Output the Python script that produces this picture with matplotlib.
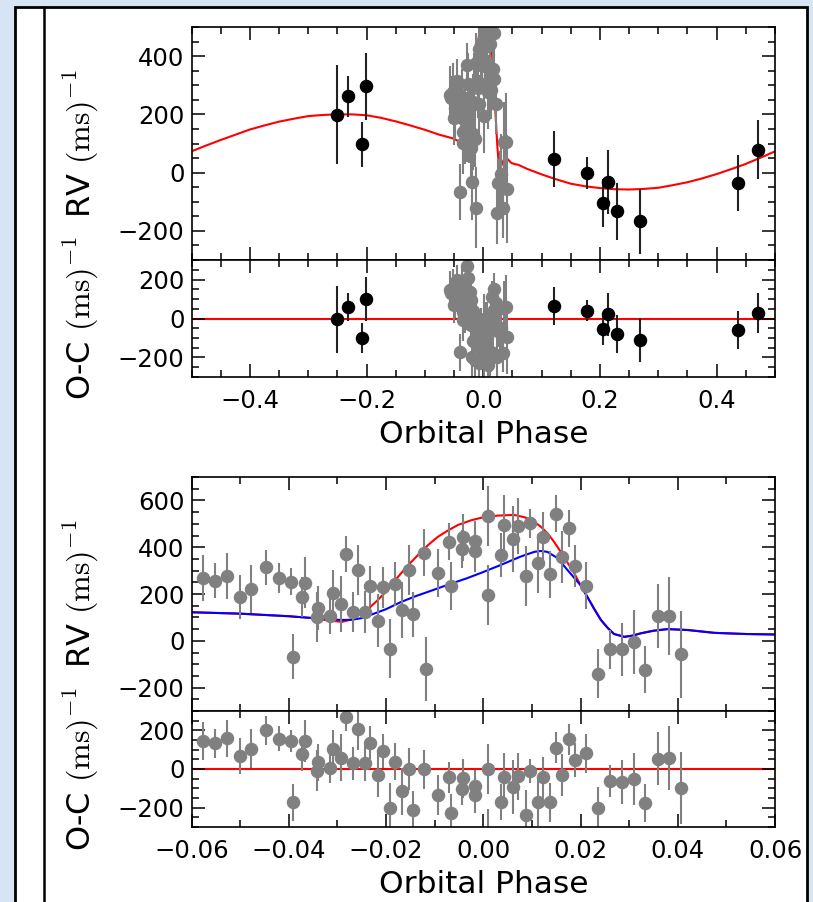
import matplotlib
matplotlib.use('Agg')
import matplotlib.pyplot as plt
from matplotlib.patches import Rectangle
from matplotlib.lines import Line2D
from matplotlib.ticker import MultipleLocator

plt.rcParams['font.family'] = ['DejaVu Sans']
plt.rcParams['mathtext.fontset'] = 'cm'

# black points (out-of-transit RVs), full orbit
black_phase = [-0.251, -0.231, -0.2015, -0.207, 0.121, 0.177, 0.2137, 0.205, 0.2285, 0.2685, 0.437, 0.4715]
black_rv = [199, 262, 296, 97, 48, -1, -32, -104, -133, -167, -37, 79]
black_err = [171, 70, 114, 77, 96, 56, 110, 83, 97, 111, 96, 101]
black_res = [-4, 59, 100, -100, 63, 41, 22, -54, -80, -110, -60, 29]

# gray points (transit night)
gray_phase = [-0.0576, -0.0552, -0.0526, -0.0501, -0.0477, -0.0446, -0.0420, -0.0396, -0.0392, -0.0367,
              -0.0372, -0.0340, -0.0341, -0.0316, -0.0309, -0.0293, -0.0283, -0.0268, -0.0258, -0.0243,
              -0.0233, -0.0217, -0.0207, -0.0192, -0.0182, -0.0168, -0.0152, -0.0144, -0.0122, -0.0118,
              -0.0094, -0.0070, -0.0067, -0.0041, -0.0043, -0.0017, -0.0016, 0.0010, 0.0010, 0.0042,
              0.0037, 0.0061, 0.0071, 0.0087, 0.0096, 0.0113, 0.0122, 0.0137, 0.0149, 0.0161,
              0.0176, 0.0188, 0.0212, 0.0235, 0.0261, 0.0285, 0.0309, 0.0333, 0.0359, 0.0383, 0.0407]
gray_rv = [267, 256, 277, 188, 221, 314, 269, 253, -68, 248,
           188, 139, 103, 106, 203, 157, 371, 123, 303, 123,
           234, 86, 229, -33, 243, 131, 303, 114, 377, -120,
           291, 423, 234, 443, 391, 428, 384, 534, 196, 496,
           367, 434, 491, 277, 503, 331, 443, 284, 543, 357,
           481, 320, 236, -140, -37, -37, -4, -123, 106, 106, -57]
gray_err = [98, 75, 98, 93, 101, 75, 64, 57, 96, 109,
            86, 94, 107, 75, 100, 120, 75, 86, 107, 90,
            86, 114, 88, 128, 95, 121, 107, 96, 101, 138,
            103, 79, 101, 101, 82, 86, 90, 128, 128, 128,
            93, 141, 121, 127, 62, 125, 107, 101, 80, 111,
            80, 89, 102, 105, 84, 112, 136, 100, 136, 166, 186]
gray_res = [144, 132, 158, 68, 105, 200, 156, 144, -173, 144,
            76, 34, -9, 3, 102, 59, 271, 30, 207, 30,
            136, -31, 93, -200, 37, -116, 0, -212, -2, -520,
            -136, -43, -229, -48, -102, -90, -136, 0, -337, -43,
            -173, -94, -38, -238, -12, -170, -43, -173, 110, -31,
            153, 46, 81, -200, -63, -68, -51, -175, 54, 59, -97]

# model curves
red_phase = [-0.060, -0.050, -0.040, -0.035, -0.032, -0.029, -0.027, -0.0257, -0.024, -0.022,
             -0.020, -0.0175, -0.0155, -0.0134, -0.0113, -0.0093, -0.0072, -0.0052, -0.0025, 0.000,
             0.003, 0.0063, 0.0085, 0.0104, 0.0118, 0.0132, 0.0146, 0.0159, 0.0173, 0.0187,
             0.020, 0.0214, 0.0228, 0.0242, 0.0256, 0.0269, 0.029, 0.0307, 0.0324, 0.035,
             0.0379, 0.0421, 0.0475, 0.054, 0.060]
red_rv = [122, 116, 105, 97, 87, 81, 92, 110, 130, 168,
          210, 274, 322, 367, 410, 445, 472, 495, 515, 528,
          535, 538, 528, 510, 488, 460, 422, 381, 335, 289,
          238, 188, 137, 89, 55, 29, 17, 22, 32, 43,
          50, 46, 34, 29, 27]

blue_phase = [-0.060, -0.050, -0.040, -0.035, -0.032, -0.029, -0.027, -0.025, -0.023, -0.020,
              -0.017, -0.014, -0.0103, -0.0068, -0.0034, -0.0006, 0.0036, 0.0077, 0.0105, 0.0118,
              0.0132, 0.0153, 0.0173, 0.020, 0.0214, 0.0228, 0.0242, 0.0256, 0.0269, 0.029,
              0.0307, 0.0324, 0.035, 0.0379, 0.0421, 0.0475, 0.054, 0.060]
blue_rv = [122, 116, 105, 97, 92, 89, 90, 97, 112, 135,
           165, 190, 217, 243, 267, 289, 324, 360, 380, 384,
           380, 353, 303, 238, 188, 137, 89, 55, 29, 17,
           22, 32, 43, 50, 46, 34, 29, 27]

orbit_phase_a = [-0.50, -0.475, -0.45, -0.425, -0.40, -0.375, -0.35, -0.325, -0.30, -0.275,
                 -0.25, -0.225, -0.20, -0.175, -0.15, -0.125, -0.10, -0.075]
orbit_rv_a = [73, 93, 112, 130, 148, 162, 175, 185, 194, 198,
              200, 200, 197, 188, 176, 162, 147, 130]
orbit_phase_b = [0.075, 0.10, 0.125, 0.15, 0.175, 0.20, 0.225, 0.25, 0.275, 0.30,
                 0.325, 0.35, 0.375, 0.40, 0.425, 0.45, 0.475, 0.50]
orbit_rv_b = [13, -6, -23, -38, -47, -53, -57, -58, -56, -52,
              -43, -33, -20, -5, 12, 30, 51, 73]

top_phase = orbit_phase_a + red_phase + orbit_phase_b
top_rv = orbit_rv_a + red_rv + orbit_rv_b

W, H = 813, 902
fig = plt.figure(figsize=(W / 100, H / 100), dpi=100)
fig.patch.set_facecolor('#d6e4f4')

# white page box with border and the inner rule
fig.add_artist(Rectangle((15 / W, -0.05), (807 - 15) / W, 1.05 - 7 / H,
                         transform=fig.transFigure, facecolor='white',
                         edgecolor='black', lw=2, zorder=0))
fig.add_artist(Line2D([44 / W, 44 / W], [0, 1 - 7 / H], transform=fig.transFigure,
                      color='black', lw=1.8, zorder=0))

TICK_FS = 17.5
LABEL_FS = 22.5
YLABEL_FS = 23


def box(top, bottom):
    return [191.5 / W, 1 - bottom / H, 583.5 / W, (bottom - top) / H]


def style(ax):
    ax.tick_params(which='both', direction='in', top=True, right=True,
                   labelsize=TICK_FS)
    ax.tick_params(axis='x', which='both', pad=8.5)
    ax.tick_params(axis='y', which='both', pad=5)
    ax.tick_params(which='major', length=9.6, width=1.1)
    ax.tick_params(which='minor', length=4.8, width=1.1)
    for s in ax.spines.values():
        s.set_linewidth(1.2)


ax1 = fig.add_axes(box(27, 260))
ax2 = fig.add_axes(box(260, 377))
ax3 = fig.add_axes(box(477, 711))
ax4 = fig.add_axes(box(711, 827))

pt = dict(fmt='o', ms=8.7, elinewidth=1.5, capsize=0)

# top: whole orbit
ax1.plot(top_phase, top_rv, color='red', lw=1.5, zorder=1)
ax1.errorbar(black_phase, black_rv, yerr=black_err, color='black', ecolor='#222222', **pt)
ax1.errorbar(gray_phase, gray_rv, yerr=gray_err, color='gray', ecolor='gray', **pt)
ax1.set_xlim(-0.5, 0.5)
ax1.set_ylim(-300, 500)
ax1.yaxis.set_major_locator(MultipleLocator(200))
ax1.yaxis.set_minor_locator(MultipleLocator(50))
ax1.set_ylabel(r'RV $(\mathrm{ms})^{-1}$', fontsize=YLABEL_FS)

ax2.axhline(0, color='red', lw=1.5, zorder=1)
ax2.errorbar(black_phase, black_res, yerr=black_err, color='black', ecolor='#222222', **pt)
ax2.errorbar(gray_phase, gray_res, yerr=gray_err, color='gray', ecolor='gray', **pt)
ax2.set_xlim(-0.5, 0.5)
ax2.set_ylim(-300, 300)
ax2.yaxis.set_major_locator(MultipleLocator(200))
ax2.yaxis.set_minor_locator(MultipleLocator(50))
ax2.set_ylabel(r'O-C $(\mathrm{ms})^{-1}$', fontsize=YLABEL_FS)
ax2.set_xlabel('Orbital Phase', fontsize=LABEL_FS, labelpad=5.5)

for ax in (ax1, ax2):
    ax.xaxis.set_major_locator(MultipleLocator(0.2))
    ax.xaxis.set_minor_locator(MultipleLocator(0.05))
ax1.tick_params(labelbottom=False)

# bottom: zoom on the transit
ax3.plot(red_phase, red_rv, color='red', lw=1.5, zorder=1)
ax3.plot(blue_phase, blue_rv, color='blue', lw=1.5, zorder=1)
ax3.errorbar(gray_phase, gray_rv, yerr=gray_err, color='gray', ecolor='gray', **pt)
ax3.set_xlim(-0.06, 0.06)
ax3.set_ylim(-300, 700)
ax3.yaxis.set_major_locator(MultipleLocator(200))
ax3.yaxis.set_minor_locator(MultipleLocator(50))
ax3.set_ylabel(r'RV $(\mathrm{ms})^{-1}$', fontsize=YLABEL_FS)

ax4.axhline(0, color='red', lw=1.5, zorder=1)
ax4.errorbar(gray_phase, gray_res, yerr=gray_err, color='gray', ecolor='gray', **pt)
ax4.set_xlim(-0.06, 0.06)
ax4.set_ylim(-300, 300)
ax4.yaxis.set_major_locator(MultipleLocator(200))
ax4.yaxis.set_minor_locator(MultipleLocator(50))
ax4.set_ylabel(r'O-C $(\mathrm{ms})^{-1}$', fontsize=YLABEL_FS)
ax4.set_xlabel('Orbital Phase', fontsize=LABEL_FS, labelpad=5.5)

for ax in (ax3, ax4):
    ax.xaxis.set_major_locator(MultipleLocator(0.02))
    ax.xaxis.set_minor_locator(MultipleLocator(0.01))
ax3.tick_params(labelbottom=False)

for ax in (ax1, ax2, ax3, ax4):
    style(ax)
    ax.yaxis.set_label_coords(-0.155, 0.5)

fig.savefig('out.png', dpi=100, facecolor=fig.get_facecolor())
